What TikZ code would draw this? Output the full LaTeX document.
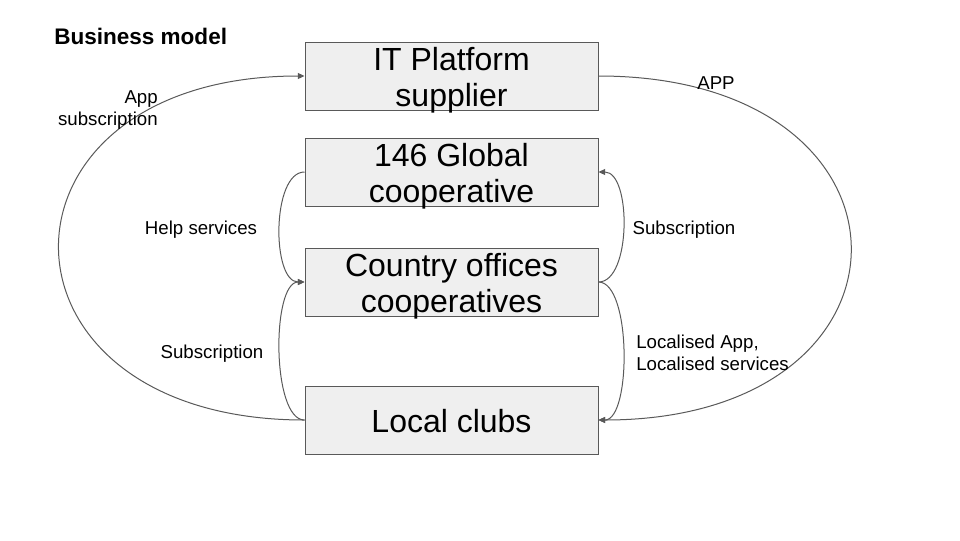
\documentclass[tikz,border=0pt]{standalone}
\usepackage{fontspec}
\setmainfont{Liberation Sans}
\usetikzlibrary{arrows.meta}
\definecolor{boxfill}{HTML}{EFEFEF}
\definecolor{lnc}{HTML}{595959}
\begin{document}
\begin{tikzpicture}[x=0.75pt,y=-0.75pt,
  box/.style={draw=lnc,line width=0.75pt,fill=boxfill,minimum width=219.75pt,minimum height=51pt,inner sep=0pt},
  boxtext/.style={inner sep=0pt,align=center,font=\fontsize{24}{27}\selectfont},
  lbl/.style={font=\fontsize{14}{16.5}\selectfont,inner sep=0pt},
  conn/.style={draw=lnc,line width=0.75pt,-{Triangle[length=5pt,width=4.5pt]}}]
\useasboundingbox (0,0) rectangle (960,540);
\node[box] (it) at (451.5,76) {};
\node[box] (gc) at (451.5,172) {};
\node[box] (co) at (451.5,282) {};
\node[box] (lc) at (451.5,420) {};
\node[boxtext] (itT) at (451.5,80) {IT Platform\\supplier};
\node[boxtext] (gcT) at (451.5,176) {146 Global\\cooperative};
\node[boxtext] (coT) at (451.5,286) {Country offices\\cooperatives};
\node[boxtext] (lcT) at (451.5,421) {Local clubs};
\node[anchor=west,inner sep=0pt,font=\fontsize{16.9}{19}\selectfont\bfseries] (title) at (54,36.5) {Business model};
\draw[conn] (lc.west) .. controls +(-327,0) and +(-327,0) .. (it.west);
\draw[conn] (it.east) .. controls +(336,0) and +(336,0) .. (lc.east);
\draw[conn] (gc.west) .. controls +(-33,0) and +(-33,0) .. (co.west);
\draw[conn] (lc.west) .. controls +(-33,0) and +(-33,0) .. (co.west);
\draw[conn] (co.east) .. controls +(33,0) and +(33,0) .. (gc.east);
\draw[conn] (co.east) .. controls +(33,0) and +(33,0) .. (lc.east);
\node[lbl,align=right,anchor=east] (l1) at (158,110.5) {App\\subscription};
\node[lbl] (l2) at (716,83) {APP};
\node[lbl] (l3) at (201,229.5) {Help services};
\node[lbl] (l4) at (684,229.5) {Subscription};
\node[lbl] (l5) at (212,353.5) {Subscription};
\node[lbl,align=left,anchor=west] (l6) at (636,352.5) {Localised App,\\Localised services};
\end{tikzpicture}
\end{document}
